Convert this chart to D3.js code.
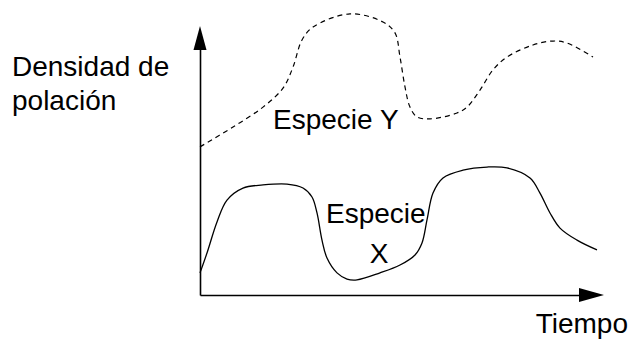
<!DOCTYPE html>
<html>
<head>
<meta charset="utf-8">
<script src="https://cdn.jsdelivr.net/npm/d3@7"></script>
<style>
  body { margin: 0; background: #fff; }
  svg { display: block; }
</style>
</head>
<body>
<svg id="chart" width="630" height="343"></svg>
<script>
// time (0-100) and density (0-100)
const timeX = [0, 1.75, 4.25, 6.75, 10.75, 15.75, 21.75, 25.75, 28, 29.25, 30.5, 31.75, 34.25, 36.75, 39.25, 45, 50, 53.75, 55.5, 56.75, 58.25, 60.75, 65.75, 71.75, 76.75, 82.5, 85, 87.5, 90, 94.25, 99.25];
const especieX = [7.9, 15.0, 26.1, 33.9, 38.2, 39.3, 39.6, 38.2, 35.0, 29.3, 19.6, 13.2, 7.9, 5.7, 5.4, 7.9, 10.7, 14.3, 18.6, 26.8, 36.4, 41.8, 44.6, 45.7, 45.4, 41.8, 36.4, 29.3, 23.9, 19.6, 16.1];

const timeY = [0, 8.25, 15.75, 20.75, 23.25, 25.5, 28.25, 37.5, 45.75, 48.75, 50, 51.25, 52.5, 54.25, 57.5, 64.25, 66.75, 70, 73.25, 76.75, 83.25, 88.25, 91.75, 98.25];
const especieY = [52.9, 60.0, 67.1, 73.9, 81.4, 91.1, 95.7, 100.4, 97.5, 93.6, 85.0, 74.3, 67.1, 63.6, 62.9, 65.0, 67.1, 73.2, 80.4, 85.0, 89.3, 90.7, 90.0, 85.0];

const yLabel = ["Densidad de", "polación"];
const xLabel = "Tiempo";

(function() {
  const svg = d3.select("#chart");
  const x0 = 200, y0 = 295;
  const font = "'Liberation Sans', Arial, sans-serif";

  const x = d3.scaleLinear().domain([0, 100]).range([x0, 600]);
  const y = d3.scaleLinear().domain([0, 100]).range([y0, 15]);

  // axes without ticks, arrowheads drawn on top
  const xAxisScale = d3.scaleLinear().domain([0, 1]).range([x0, 582]);
  const yAxisScale = d3.scaleLinear().domain([0, 1]).range([y0, 48]);

  svg.append("g").attr("transform", `translate(0,${y0})`)
    .call(d3.axisBottom(xAxisScale).tickValues([]).tickSizeOuter(0));
  svg.append("g").attr("transform", `translate(${x0},0)`)
    .call(d3.axisLeft(yAxisScale).tickValues([]).tickSizeOuter(0));
  svg.selectAll(".domain").attr("stroke", "#000").attr("stroke-width", 1.6);

  svg.append("path")
    .attr("d", `M604,${y0}L579,${y0 - 7}L579,${y0 + 7}Z`)
    .attr("fill", "#000");
  svg.append("path")
    .attr("d", `M${x0},26L${x0 - 6.5},50L${x0 + 6.5},50Z`)
    .attr("fill", "#000");

  const line = d3.line()
    .x(d => x(d[0]))
    .y(d => y(d[1]))
    .curve(d3.curveCatmullRom.alpha(0.5));

  svg.append("path")
    .datum(timeX.map((t, i) => [t, especieX[i]]))
    .attr("d", line)
    .attr("fill", "none")
    .attr("stroke", "#000")
    .attr("stroke-width", 1.3);

  svg.append("path")
    .datum(timeY.map((t, i) => [t, especieY[i]]))
    .attr("d", line)
    .attr("fill", "none")
    .attr("stroke", "#000")
    .attr("stroke-width", 1.2)
    .attr("stroke-dasharray", "5,4");

  const fs = 28;
  const label = (tx, ty, s, anchor) => svg.append("text")
    .attr("x", tx).attr("y", ty)
    .attr("text-anchor", anchor || "start")
    .attr("font-family", font)
    .attr("font-size", fs)
    .attr("fill", "#000")
    .text(s);

  label(12, 76, yLabel[0]);
  label(12, 110, yLabel[1]);
  label(628, 333, xLabel, "end");
  label(273, 129, "Especie Y");
  label(326, 223, "Especie");
  label(379, 263, "X", "middle");
})();
</script>
</body>
</html>
